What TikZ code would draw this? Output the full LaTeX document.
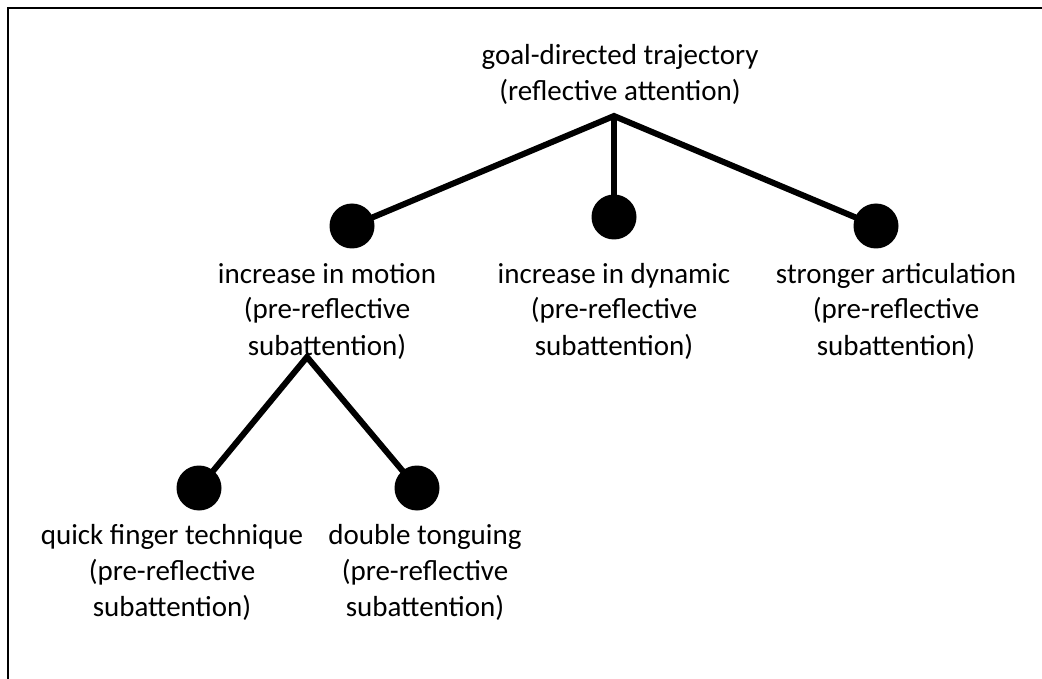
\documentclass[tikz,border=0pt]{standalone}
\usepackage{fontspec}
\setmainfont{Carlito}
\begin{document}
\begin{tikzpicture}[x=1pt,y=-1pt,
  label/.style={align=center,anchor=base,inner sep=0pt,font=\fontsize{29}{36}\selectfont,text=black},
  dot/.style={circle,fill=black,minimum size=45pt,inner sep=0pt},
  branch/.style={line width=6pt,line join=miter}]
  \useasboundingbox (0,0) rectangle (1042,679);
  % frame
  \draw[line width=2.2pt] (8,679) -- (8,8) -- (1042,8);

  % labels (placed by the baseline of their last line)
  \node[label] (goal) at (620,101) {goal-directed trajectory\\(reflective attention)};
  \node[label] (motion) at (327,355) {increase in motion\\(pre-reflective\\subattention)};
  \node[label] (dynamic) at (614,355) {increase in dynamic\\(pre-reflective\\subattention)};
  \node[label] (artic) at (896,355) {stronger articulation\\(pre-reflective\\subattention)};
  \node[label] (finger) at (172,616) {quick finger technique\\(pre-reflective\\subattention)};
  \node[label] (tongue) at (425,616) {double tonguing\\(pre-reflective\\subattention)};

  % tree
  \coordinate (top) at (614,116);
  \coordinate (sub) at (307,357);
  \node[dot] (d1) at (352,226) {};
  \node[dot] (d2) at (614,217) {};
  \node[dot] (d3) at (876,226) {};
  \node[dot] (d4) at (199,488) {};
  \node[dot] (d5) at (417,488) {};

  \draw[branch] (d1.center) -- (top) -- (d3.center);
  \draw[branch] (top) -- (d2.center);
  \draw[branch] (d4.center) -- (sub) -- (d5.center);
\end{tikzpicture}
\end{document}
